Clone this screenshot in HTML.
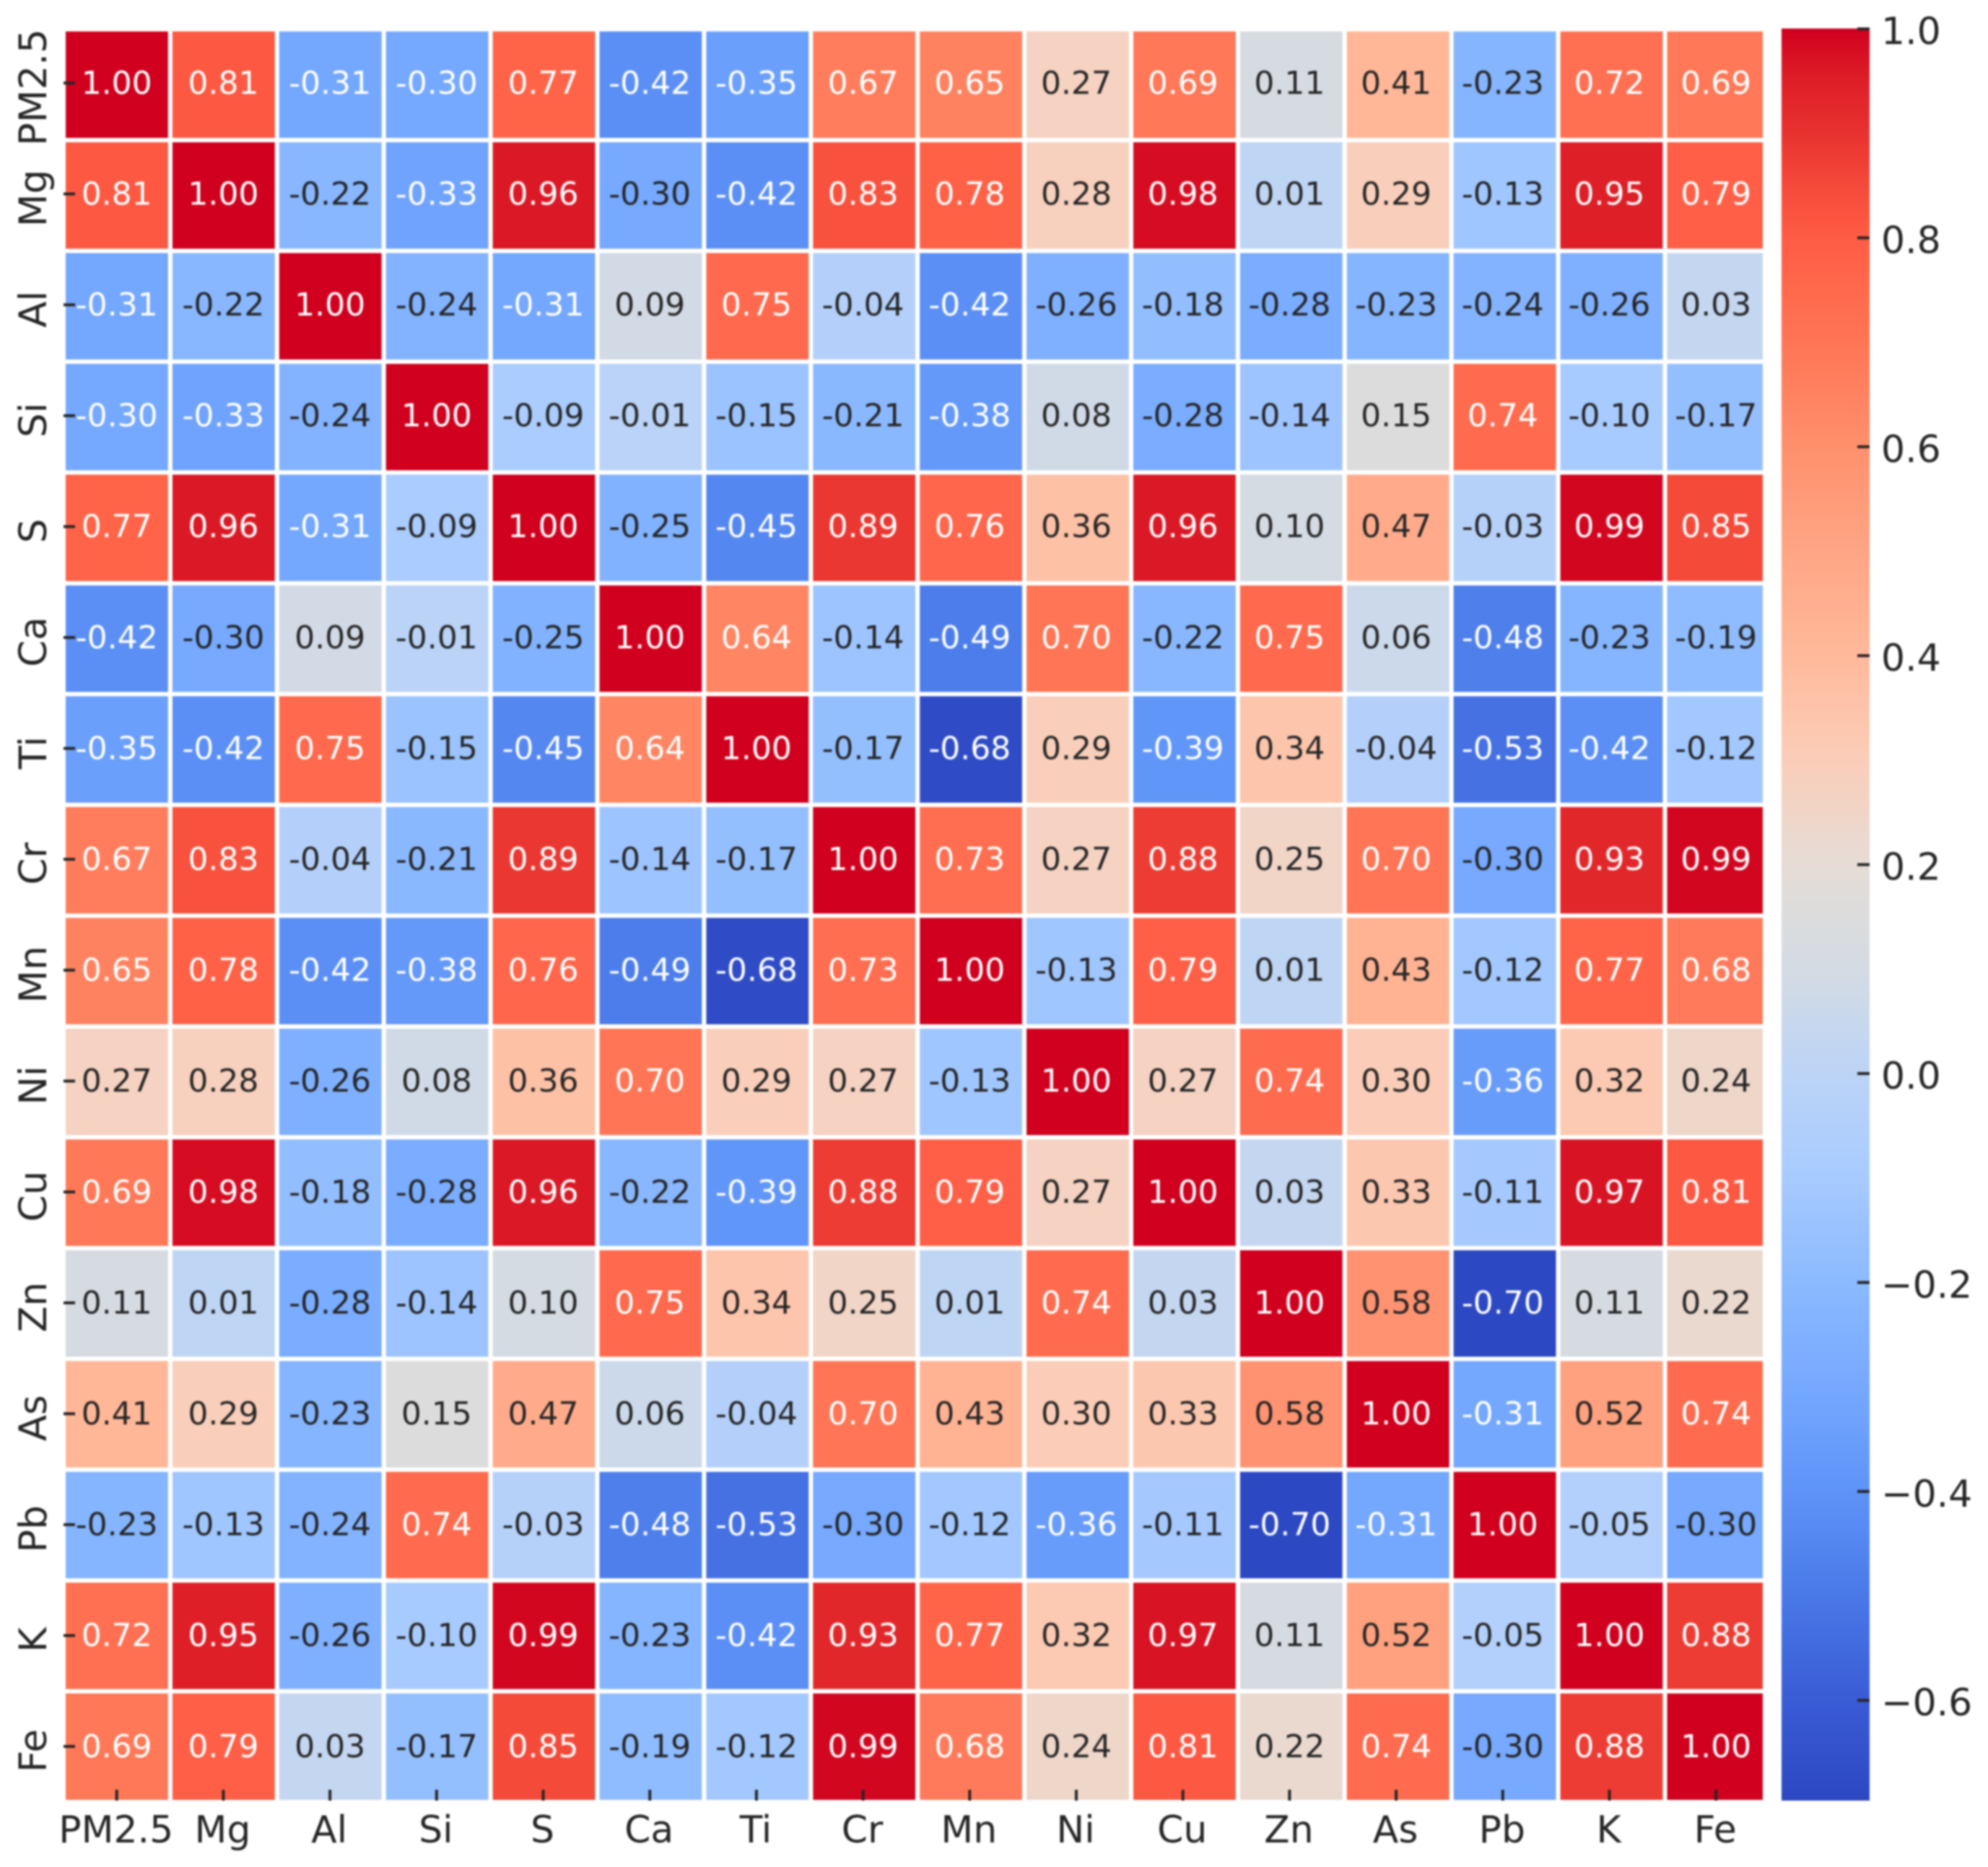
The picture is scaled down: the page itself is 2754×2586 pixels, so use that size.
<!DOCTYPE html>
<html lang="en">
<head>
<meta charset="utf-8">
<title>Correlation heatmap</title>
<style>
html,body{margin:0;padding:0;background:#fff;width:2754px;height:2586px;overflow:hidden}
svg{display:block;filter:blur(1.4px)}
text{font-family:"DejaVu Sans","Liberation Sans",sans-serif}
</style>
</head>
<body>
<svg id="chart" xmlns="http://www.w3.org/2000/svg" width="2754" height="2586" viewBox="0 0 2754 2586"></svg>
<script>
const categories = ["PM2.5","Mg","Al","Si","S","Ca","Ti","Cr","Mn","Ni","Cu","Zn","As","Pb","K","Fe"];
const row0  = [1.00,0.81,-0.31,-0.304,0.77,-0.42,-0.35,0.67,0.65,0.27,0.69,0.11,0.41,-0.23,0.72,0.69];
const row1  = [0.81,1.00,-0.22,-0.33,0.96,-0.30,-0.42,0.83,0.78,0.28,0.98,0.01,0.29,-0.13,0.95,0.79];
const row2  = [-0.31,-0.22,1.00,-0.24,-0.31,0.09,0.75,-0.04,-0.42,-0.26,-0.18,-0.28,-0.23,-0.24,-0.26,0.03];
const row3  = [-0.304,-0.33,-0.24,1.00,-0.09,-0.01,-0.15,-0.21,-0.38,0.08,-0.28,-0.14,0.15,0.74,-0.10,-0.17];
const row4  = [0.77,0.96,-0.31,-0.09,1.00,-0.25,-0.45,0.89,0.76,0.36,0.96,0.10,0.47,-0.03,0.99,0.85];
const row5  = [-0.42,-0.30,0.09,-0.01,-0.25,1.00,0.64,-0.14,-0.49,0.70,-0.22,0.75,0.06,-0.48,-0.23,-0.19];
const row6  = [-0.35,-0.42,0.75,-0.15,-0.45,0.64,1.00,-0.17,-0.68,0.29,-0.39,0.34,-0.04,-0.53,-0.42,-0.12];
const row7  = [0.67,0.83,-0.04,-0.21,0.89,-0.14,-0.17,1.00,0.73,0.27,0.88,0.25,0.70,-0.30,0.93,0.99];
const row8  = [0.65,0.78,-0.42,-0.38,0.76,-0.49,-0.68,0.73,1.00,-0.13,0.79,0.01,0.43,-0.12,0.77,0.68];
const row9  = [0.27,0.28,-0.26,0.08,0.36,0.70,0.29,0.27,-0.13,1.00,0.27,0.74,0.30,-0.36,0.32,0.24];
const row10 = [0.69,0.98,-0.18,-0.28,0.96,-0.22,-0.39,0.88,0.79,0.27,1.00,0.03,0.33,-0.11,0.97,0.81];
const row11 = [0.11,0.01,-0.28,-0.14,0.10,0.75,0.34,0.25,0.01,0.74,0.03,1.00,0.58,-0.70,0.11,0.22];
const row12 = [0.41,0.29,-0.23,0.15,0.47,0.06,-0.04,0.70,0.43,0.30,0.33,0.58,1.00,-0.31,0.52,0.74];
const row13 = [-0.23,-0.13,-0.24,0.74,-0.03,-0.48,-0.53,-0.30,-0.12,-0.36,-0.11,-0.70,-0.31,1.00,-0.05,-0.30];
const row14 = [0.72,0.95,-0.26,-0.10,0.99,-0.23,-0.42,0.93,0.77,0.32,0.97,0.11,0.52,-0.05,1.00,0.88];
const row15 = [0.69,0.79,0.03,-0.17,0.85,-0.19,-0.12,0.99,0.68,0.24,0.81,0.22,0.74,-0.30,0.88,1.00];
const matrix = [row0,row1,row2,row3,row4,row5,row6,row7,row8,row9,row10,row11,row12,row13,row14,row15];
const colorbarTicks = [1.0,0.8,0.6,0.4,0.2,0.0,-0.2,-0.4,-0.6];

/* colour scale (value -> rgb) */
const rampValues = [-0.70,-0.60,-0.50,-0.40,-0.30,-0.20,-0.10,0.00,0.05,0.10,0.15,0.20,0.30,0.40,0.50,0.60,0.70,0.80,0.85,0.90,0.95,1.00];
const rampColors = ["#2c48c2","#3a5cd6","#4a7ae8","#5f94f8","#76a9ff","#8cbaff","#a8cbff","#bcd4f6","#c9d8ec","#d4dbe3","#dcdcdc","#e6dcd5","#fbcdb8","#ffb99a","#ffa584","#ff8f6c","#ff7555","#ff5c44","#f44a3a","#e8322f","#de1f28","#d0001e"];

const NS = "http://www.w3.org/2000/svg";
const svg = document.getElementById("chart");

/* axis functions */
function cellLeft(c){ return 91 + 147.9 * c; }
function cellTop(r){ return 43.6 + 153.47 * r; }
function xTick(c){ return 161.7 + 147.7 * c; }
function yTick(r){ return 115 + 153.6 * r; }
function cbarY(v){ return 40 + (1 - v) * 1447; }

function hexToRgb(h){ return [1,3,5].map(function(i){ return parseInt(h.substr(i,2),16); }); }
function colorFor(v){
  const n = rampValues.length;
  if (v <= rampValues[0]) return rampColors[0];
  if (v >= rampValues[n-1]) return rampColors[n-1];
  for (let i = 0; i < n-1; i++) {
    if (v <= rampValues[i+1]) {
      const t = (v - rampValues[i]) / (rampValues[i+1] - rampValues[i]);
      const a = hexToRgb(rampColors[i]), b = hexToRgb(rampColors[i+1]);
      return "rgb(" + a.map(function(x,k){ return Math.round(x + (b[k]-x)*t); }).join(",") + ")";
    }
  }
}
function textColorFor(v){ return (v >= 0.60 || v <= -0.303) ? "#ffffff" : "#262626"; }
function make(tag, attrs, parent){
  const el = document.createElementNS(NS, tag);
  for (const k in attrs) el.setAttribute(k, attrs[k]);
  (parent || svg).appendChild(el);
  return el;
}

/* background */
const bg = make("rect", {x:0,y:0,width:2754,height:2586,fill:"#ffffff"});



/* heatmap cells */
const cellsGroup = make("g", {});


matrix.forEach(function(rowValues, r){
  rowValues.forEach(function(v, c){
    const left = cellLeft(c);
    const right = Math.min(left + 141.8, 2442);
    const cell = make("rect", {x:left, y:cellTop(r), width:right-left, height:147.4, fill:colorFor(v)}, cellsGroup);
    
    
  });
});

/* annotations */
const annotGroup = make("g", {"font-size":44, "text-anchor":"middle"});


matrix.forEach(function(rowValues, r){
  rowValues.forEach(function(v, c){
    const label = make("text", {x:xTick(c), y:yTick(r)+14.8, fill:textColorFor(v)}, annotGroup);
    label.textContent = v.toFixed(2);
    
    
  });
});

/* y axis */
const yAxis = make("g", {});


categories.forEach(function(name, r){
  const tick = make("rect", {x:88, y:yTick(r)-2, width:16, height:4, fill:"#262626"}, yAxis);
  
  
  const py = yTick(r) + 6;
  const label = make("text", {x:64, y:py, "font-size":53, fill:"#262626", "text-anchor":"middle", transform:"rotate(-90 64 " + py + ")"}, yAxis);
  label.textContent = name;
  
  
});

/* x axis */
const xAxis = make("g", {});


categories.forEach(function(name, c){
  const tick = make("rect", {x:xTick(c)-2, y:2479, width:4, height:15, fill:"#262626"}, xAxis);
  
  
  const label = make("text", {x:xTick(c)-1, y:2552, "font-size":52, fill:"#262626", "text-anchor":"middle"}, xAxis);
  label.textContent = name;
  
  
});

/* colour bar */
const defs = make("defs", {});
const grad = make("linearGradient", {id:"cbarGradient", x1:0, y1:0, x2:0, y2:1}, defs);
const cbarTop = 39.5, cbarBottom = 2494;
for (let i = 0; i <= 100; i++) {
  const v = 1 - (1.7 * i / 100);
  make("stop", {offset:(i) + "%", "stop-color":colorFor(v)}, grad);
}
const cbar = make("g", {});


const cbarRect = make("rect", {x:2468, y:cbarTop, width:122, height:cbarBottom-cbarTop, fill:"url(#cbarGradient)"}, cbar);


colorbarTicks.forEach(function(v){
  const y = cbarY(v);
  const tick = make("rect", {x:2573, y:y-2, width:17, height:4, fill:"#262626"}, cbar);
  
  
  const label = make("text", {x:2606, y:y+21, "font-size":52, fill:"#262626"}, cbar);
  label.textContent = v.toFixed(1).replace("-", "\u2212");
  
  
});
</script>
</body>
</html>
